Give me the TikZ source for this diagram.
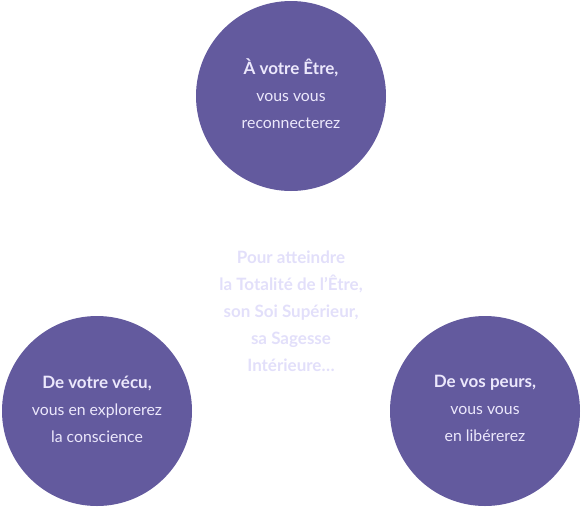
\documentclass[tikz,border=0pt]{standalone}
\usepackage{fontspec}
\setmainfont{Lato}
\definecolor{circ}{HTML}{635A9E}
\definecolor{ctext}{HTML}{ECE8FC}
\definecolor{mtext}{HTML}{E2DFFA}
\newcommand{\ttl}[1]{{\fontsize{17}{27}\selectfont\bfseries #1}}
\begin{document}
\begin{tikzpicture}[x=1pt,y=-1pt,
  disc/.style={circle,fill=circ,minimum size=190pt,inner sep=0pt},
  bubbletext/.style={inner sep=0pt,text=ctext,align=center,
    font=\fontsize{15.8}{27}\selectfont},
  middle/.style={text=mtext,align=center,font=\fontsize{17}{27}\selectfont\bfseries}]
\useasboundingbox (0,0) rectangle (582,531);
\node[disc] (top) at (291,96) {};
\node[disc] (left) at (97,411) {};
\node[disc] (right) at (485,411) {};
\node[bubbletext] (toptext) at (291,94) {\ttl{À votre Être,}\\vous vous\\reconnecterez};
\node[bubbletext] (lefttext) at (97,409) {\ttl{De votre vécu,}\\vous en explorerez\\la conscience};
\node[bubbletext] (righttext) at (485,408) {\ttl{De vos peurs,}\\vous vous\\en libérerez};
\node[middle] (center) at (291,311) {Pour atteindre\\la Totalité de l’Être,\\son Soi Supérieur,\\sa Sagesse\\Intérieure…};
\end{tikzpicture}
\end{document}
